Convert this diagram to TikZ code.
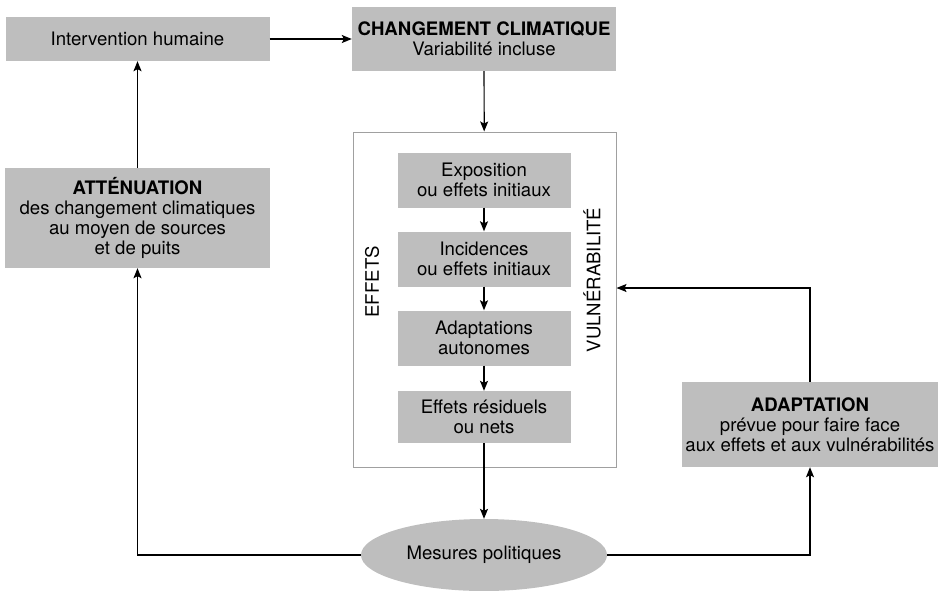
\documentclass[tikz,border=0pt]{standalone}
\usepackage{fontspec}
\setmainfont{TeX Gyre Heros}
\usepackage{tikz}
\usetikzlibrary{arrows.meta,shapes.geometric}
\definecolor{boxgrey}{RGB}{190,190,190}
\definecolor{framegrey}{RGB}{160,160,160}
\newcommand{\txt}{\fontsize{18.6}{20}\selectfont}
\tikzset{
  greybox/.style={fill=boxgrey,align=center,inner sep=0pt,font=\txt},
  arr/.style={-{Stealth[length=10pt,width=8pt,inset=2pt]},line width=1.2pt},
  line/.style={line width=1.2pt}
}

\begin{document}
\begin{tikzpicture}[x=1pt,y=-1pt]
\useasboundingbox (0,0) rectangle (941,590);
\node[greybox,minimum width=264pt,minimum height=44pt] (interv) at (137.5,39) {Intervention humaine};
\node[greybox,minimum width=264pt,minimum height=64pt] (clim) at (484,39) {\textbf{CHANGEMENT CLIMATIQUE}\\Variabilité incluse};
\node[greybox,minimum width=265pt,minimum height=100pt] (att) at (137.5,218) {\textbf{ATTÉNUATION}\\des changement climatiques\\au moyen de sources\\et de puits};
\node[draw=framegrey,line width=1pt,minimum width=263pt,minimum height=335pt] (vuln) at (484.5,299.5) {};
\node[greybox,minimum width=173pt,minimum height=55pt] (expo) at (484,180) {Exposition\\ou effets initiaux};
\node[greybox,minimum width=173pt,minimum height=55pt] (inc) at (484,259) {Incidences\\ou effets initiaux};
\node[greybox,minimum width=173pt,minimum height=55pt] (auto) at (484,338) {Adaptations\\autonomes};
\node[greybox,minimum width=173pt,minimum height=52pt] (resid) at (484,417) {Effets résiduels\\ou nets};
\node[font=\txt,rotate=90] (effets) at (372,282) {EFFETS};
\node[font=\txt,rotate=90] (vulntxt) at (592,280) {VULNÉRABILITÉ};
\node[greybox,minimum width=256pt,minimum height=85pt] (adapt) at (810,424.5) {\textbf{ADAPTATION}\\prévue pour faire face\\aux effets et aux vulnérabilités};
\node[ellipse,fill=boxgrey,font=\txt,inner sep=0pt,minimum width=246pt,minimum height=72pt] (pol) at (484,555) {Mesures politiques};
% connecteurs
\draw[arr] (interv) -- (clim);
\draw[arr] (clim) -- (vuln);
\draw[arr] (expo) -- (inc);
\draw[arr] (inc) -- (auto);
\draw[arr] (auto) -- (resid);
\draw[arr] (resid) -- (pol);
\draw[arr] (att) -- (interv);
\draw[arr] (pol.west) -| (att.south);
\draw[arr] (pol.east) -| (adapt.south);
\draw[arr] (adapt.north) |- ([yshift=11.5pt]vuln.east);
\end{tikzpicture}
\end{document}
